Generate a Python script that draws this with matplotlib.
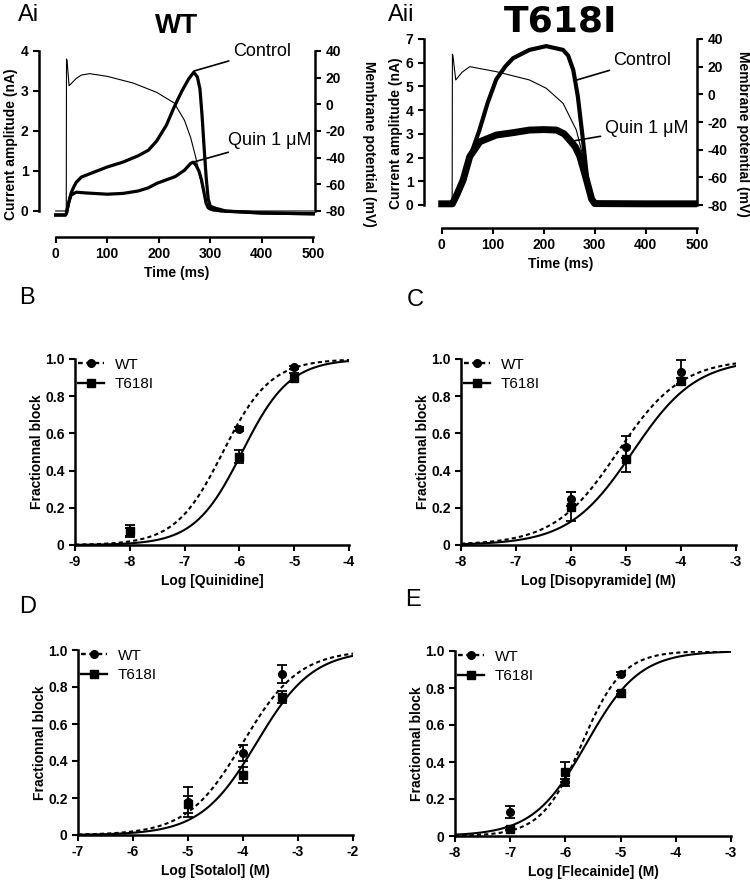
import numpy as np
import matplotlib
matplotlib.use("Agg")
import matplotlib.pyplot as plt
from matplotlib.lines import Line2D

plt.rcParams['font.family'] = ['Liberation Sans', 'DejaVu Sans']
plt.rcParams['axes.unicode_minus'] = False

# ---- panel A traces (time in ms, current in nA, potential in mV) ----
wt_ctrl_t = [0, 19, 21, 25, 30, 35, 40, 50, 70, 100, 130, 160, 180, 196, 215, 230, 245, 258, 268, 275, 280, 284, 288, 292, 296, 300, 310, 330, 400, 500]
wt_ctrl_i = [-0.1, -0.1, -0.05, 0.2, 0.45, 0.6, 0.72, 0.85, 0.95, 1.1, 1.22, 1.38, 1.52, 1.75, 2.15, 2.6, 3.0, 3.3, 3.47, 3.35, 3.05, 2.4, 1.6, 0.85, 0.3, 0.12, 0.07, 0.0, -0.05, -0.07]
wt_quin_t = [0, 19, 21, 25, 30, 40, 60, 100, 131, 160, 180, 196, 215, 232, 250, 262, 267, 272, 278, 283, 288, 292, 296, 300, 320, 400, 500]
wt_quin_i = [-0.1, -0.1, -0.05, 0.2, 0.4, 0.47, 0.45, 0.42, 0.44, 0.5, 0.58, 0.69, 0.78, 0.86, 1.02, 1.19, 1.22, 1.15, 1.0, 0.78, 0.45, 0.19, 0.08, 0.05, 0.0, -0.05, -0.07]
wt_vm_t = [0, 20.5, 21, 22, 26, 30, 40, 50, 66, 100, 150, 196, 230, 250, 262, 272, 282, 290, 296, 305, 500]
wt_vm = [-80, -80, 34, 33, 14, 15.5, 19.5, 22, 23, 21, 16, 9, 1, -12, -25, -40, -58, -71, -78, -80, -80]

mut_ctrl_t = [0, 19, 21, 30, 42, 55, 74, 90, 107, 125, 140, 172, 205, 238, 248, 258, 267, 277, 287, 294, 300, 400, 500]
mut_ctrl_i = [0.05, 0.05, 0.05, 0.45, 1.05, 2.0, 3.16, 4.3, 5.3, 5.85, 6.19, 6.54, 6.7, 6.54, 6.3, 5.69, 4.57, 2.74, 0.77, 0.2, 0.06, 0.05, 0.05]
mut_quin_t = [0, 19, 21, 30, 42, 55, 75, 107, 140, 172, 200, 225, 240, 251, 262, 271, 284, 294, 300, 400, 500]
mut_quin_i = [0.05, 0.05, 0.05, 0.45, 1.05, 2.04, 2.67, 2.95, 3.05, 3.16, 3.18, 3.16, 3.0, 2.74, 2.45, 2.04, 1.05, 0.25, 0.06, 0.05, 0.05]
mut_vm_t = [0, 20.5, 21, 22, 27.5, 40, 55, 107, 172, 205, 238, 264, 277, 287, 294, 300, 500]
mut_vm = [-80, -80, 29, 28, 10.4, 16, 20, 16.4, 10.4, 4.4, -6.5, -25.8, -45, -66.8, -76.4, -80, -80]

# ---- concentration-response data (log M, fractional block, SEM) ----
quin_x = [-8, -6, -5]
quin_wt = [0.07, 0.625, 0.955]
quin_wt_err = [0.02, 0.01, 0.01]
quin_mut = [0.075, 0.475, 0.90]
quin_mut_err = [0.03, 0.035, 0.025]

diso_x = [-6, -5, -4]
diso_wt = [0.245, 0.528, 0.93]
diso_wt_err = [0.038, 0.058, 0.065]
diso_mut = [0.206, 0.46, 0.88]
diso_mut_err = [0.077, 0.07, 0.02]

sota_x = [-5, -4, -3.3]
sota_wt = [0.18, 0.443, 0.87]
sota_wt_err = [0.08, 0.045, 0.05]
sota_mut = [0.165, 0.325, 0.745]
sota_mut_err = [0.045, 0.045, 0.032]

flec_x = [-7, -6, -5]
flec_wt = [0.13, 0.29, 0.878]
flec_wt_err = [0.03, 0.02, 0.01]
flec_mut = [0.04, 0.345, 0.775]
flec_mut_err = [0.01, 0.055, 0.01]

# Hill fits: (log IC50, Hill slope)
quin_fit = [(-6.3, 1.0), (-5.95, 1.0)]
diso_fit = [(-5.15, 0.75), (-4.88, 0.75)]
sota_fit = [(-4.0, 0.85), (-3.75, 0.85)]
flec_fit = [(-5.7, 1.18), (-5.62, 0.9)]

W, H = 750, 884
fig = plt.figure(figsize=(7.5, 8.84), dpi=100)


def box(l, r, t, b):
    return [l / W, 1 - b / H, (r - l) / W, (b - t) / H]


TICK = dict(labelsize=10, width=1.5, length=4)
SPW = 1.8


def trace_panel(pos, ylim, vlim, ytop, xlim, ctrl, quin, vm, lw_c, lw_q, title, tsize, tfam, tpad, rpad, ann):
    ax = fig.add_axes(pos)
    ax.plot(ctrl[0], ctrl[1], color='k', lw=lw_c, solid_joinstyle='round')
    ax.plot(quin[0], quin[1], color='k', lw=lw_q, solid_joinstyle='round')
    ax.set_xlim(*xlim)
    ax.set_ylim(*ylim)
    for s in ['top', 'right']:
        ax.spines[s].set_visible(False)
    ax.spines['left'].set_bounds(0, ytop)
    ax.spines['bottom'].set_bounds(0, 500)
    for s in ['left', 'bottom']:
        ax.spines[s].set_linewidth(SPW)
    ax.set_yticks(range(0, ytop + 1))
    ax.set_xticks(range(0, 501, 100))
    ax.tick_params(**TICK)
    for lab in ax.get_xticklabels() + ax.get_yticklabels():
        lab.set_fontweight('bold')
    ax.set_xlabel('Time (ms)', fontsize=10, fontweight='bold', labelpad=3)
    ax.set_ylabel('Current amplitude (nA)', fontsize=10, fontweight='bold', labelpad=2)
    ax2 = ax.twinx()
    ax2.plot(vm[0], vm[1], color='k', lw=0.8)
    ax2.set_ylim(*vlim)
    for s in ['top', 'left', 'bottom']:
        ax2.spines[s].set_visible(False)
    ax2.spines['right'].set_bounds(-80, 40)
    ax2.spines['right'].set_linewidth(SPW)
    ax2.set_yticks(range(-80, 41, 20))
    ax2.tick_params(**TICK)
    for lab in ax2.get_yticklabels():
        lab.set_fontweight('bold')
    ax2.set_ylabel('Membrane potential (mV)', fontsize=10, fontweight='bold', rotation=270, labelpad=rpad)
    ax.set_title(title, fontsize=tsize, fontweight='bold', family=tfam, pad=tpad)
    for txt, xy, xyt in ann:
        ax.annotate(txt, xy=xy, xytext=xyt, fontsize=13, ha='left', va='center',
                    arrowprops=dict(arrowstyle='-', lw=1.2, color='k', shrinkA=1, shrinkB=0))
    return ax


trace_panel(box(39, 315, 51, 237), (-0.65, 4.0), (-99.5, 40), 4, (-32.4, 503.3),
            (wt_ctrl_t, wt_ctrl_i), (wt_quin_t, wt_quin_i), (wt_vm_t, wt_vm), 2.3, 2.3,
            'WT', 20, ['Liberation Sans'], 13, 22,
            [('Control', (268.5, 3.5), (344, 3.99)), ('Quin 1 μM', (266.5, 1.22), (334.6, 1.76))])
trace_panel(box(424, 697, 39, 228), (-0.97, 7.0), (-96.6, 40), 7, (-34.7, 500.6),
            (mut_ctrl_t, mut_ctrl_i), (mut_quin_t, mut_quin_i), (mut_vm_t, mut_vm), 3.0, 5.0,
            'T618I', 26, ['DejaVu Sans'], 4, 16,
            [('Control', (264.7, 5.27), (337, 6.09)), ('Quin 1 μM', (247, 2.66), (319.6, 3.23))])


def hill(x, logic50, n):
    return 1.0 / (1.0 + 10 ** ((logic50 - x) * n))


def dose_panel(pos, xlim, xs, wt, wt_err, mut, mut_err, fits, xlabel):
    ax = fig.add_axes(pos)
    xx = np.linspace(xlim[0], xlim[1], 300)
    ax.plot(xx, hill(xx, *fits[0]), color='k', lw=1.5, ls=(0, (2, 1.5)))
    ax.plot(xx, hill(xx, *fits[1]), color='k', lw=1.5)
    ax.errorbar(xs, wt, yerr=wt_err, fmt='o', color='k', ms=5.5, capsize=3.5,
                elinewidth=1.3, capthick=1.3, clip_on=False, zorder=4)
    ax.errorbar(xs, mut, yerr=mut_err, fmt='s', color='k', ms=5.5, capsize=3.5,
                elinewidth=1.3, capthick=1.3, clip_on=False, zorder=4)
    ax.set_xlim(*xlim)
    ax.set_ylim(0, 1.0)
    for s in ['top', 'right']:
        ax.spines[s].set_visible(False)
    for s in ['left', 'bottom']:
        ax.spines[s].set_linewidth(SPW)
    ax.set_xticks(range(xlim[0], xlim[1] + 1))
    ax.set_yticks([0, 0.2, 0.4, 0.6, 0.8, 1.0])
    ax.set_yticklabels(['0', '0.2', '0.4', '0.6', '0.8', '1.0'])
    ax.tick_params(**TICK)
    for lab in ax.get_xticklabels() + ax.get_yticklabels():
        lab.set_fontweight('bold')
    ax.set_xlabel(xlabel, fontsize=10, fontweight='bold', labelpad=3)
    ax.set_ylabel('Fractionnal block', fontsize=10, fontweight='bold', labelpad=1)
    handles = [Line2D([], [], color='k', lw=1.7, ls=(0, (2, 1.5)), marker='o', ms=5.5),
               Line2D([], [], color='k', lw=1.7, marker='s', ms=5.5)]
    ax.legend(handles, ['WT', 'T618I'], loc='upper left', bbox_to_anchor=(-0.01, 1.04),
              frameon=False, fontsize=11, handlelength=1.7, handletextpad=0.7,
              labelspacing=0.35, borderaxespad=0)
    return ax


dose_panel(box(75, 349, 359, 545), (-9, -4), quin_x, quin_wt, quin_wt_err, quin_mut, quin_mut_err,
           quin_fit, 'Log [Quinidine]')
dose_panel(box(461, 736, 359, 545), (-8, -3), diso_x, diso_wt, diso_wt_err, diso_mut, diso_mut_err,
           diso_fit, 'Log [Disopyramide] (M)')
dose_panel(box(78, 353, 650, 835), (-7, -2), sota_x, sota_wt, sota_wt_err, sota_mut, sota_mut_err,
           sota_fit, 'Log [Sotalol] (M)')
dose_panel(box(455, 731, 651, 836), (-8, -3), flec_x, flec_wt, flec_wt_err, flec_mut, flec_mut_err,
           flec_fit, 'Log [Flecainide] (M)')

# panel letters
for txt, px, py in [('Ai', 18, 15), ('Aii', 388, 15), ('B', 19, 298), ('C', 407, 300),
                    ('D', 19, 607), ('E', 405, 600)]:
    fig.text(px / W, 1 - py / H, txt, fontsize=17, ha='left', va='center')

fig.savefig('out.png', dpi=100)
